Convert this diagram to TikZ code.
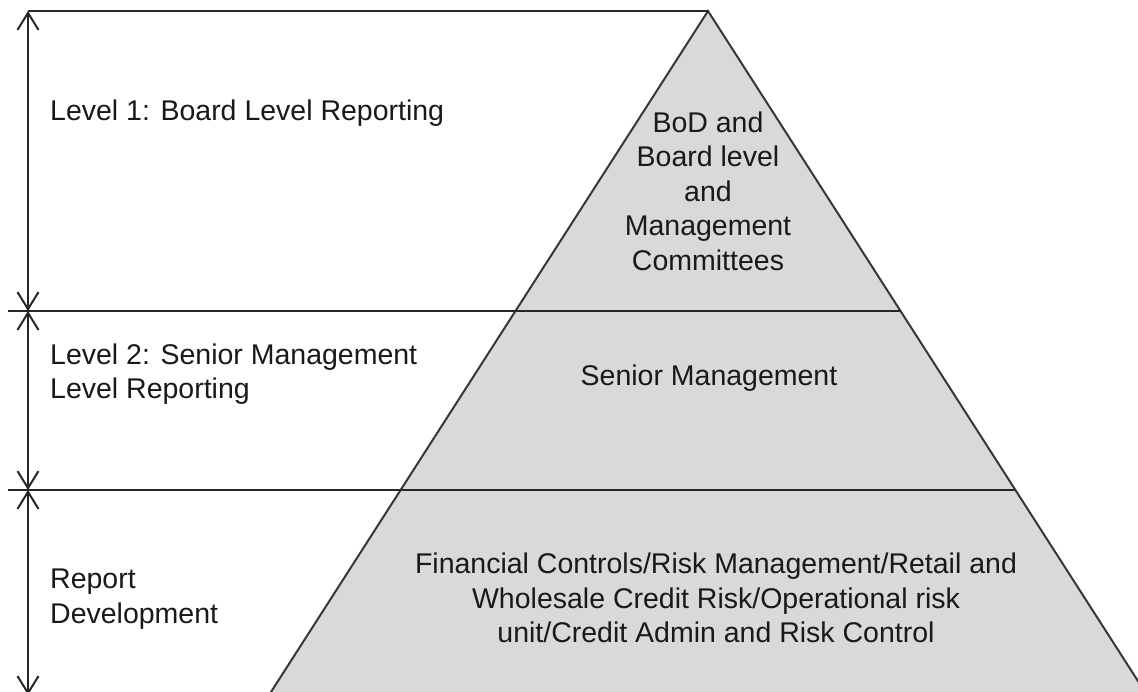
\documentclass[tikz,border=0pt]{standalone}
\usepackage{fontspec}
\setmainfont{Liberation Sans}
\usetikzlibrary{arrows.meta}
\definecolor{pyrfill}{RGB}{217,217,217}
\definecolor{pyrline}{RGB}{55,55,55}
\begin{document}
\begin{tikzpicture}[x=1pt, y=-1pt,
  txt/.style={font=\fontsize{28.5}{34.5}\selectfont, text=black!90, inner sep=0pt},
  lvl/.style={txt, anchor=west, align=left},
  inpyr/.style={txt, align=center},
  dim/.style={{Straight Barb[length=17pt,width=21pt]}-{Straight Barb[length=17pt,width=21pt]}, line width=2pt, color=black!85},
  rule/.style={line width=2pt, color=black!85}]
  \useasboundingbox (0,0) rectangle (1138,691);
  \clip (0,0) rectangle (1138,691);
  % the pyramid
  \draw[fill=pyrfill, draw=pyrline, line width=2pt] (708,11) -- (253,720) -- (1163,720) -- cycle;
  \coordinate (apex) at (708,11);
  \coordinate (top) at (28,11);
  \coordinate (m1) at (28,311);
  \coordinate (m2) at (28,490);
  \coordinate (bot) at (28,695);
  \coordinate (l1w) at (8,311);
  \coordinate (l1e) at (900,311);
  \coordinate (l2w) at (8,490);
  \coordinate (l2e) at (1015,490);
  \draw[rule] (top) -- (apex);
  \draw[rule] (l1w) -- (l1e);
  \draw[rule] (l2w) -- (l2e);
  \draw[dim] (top) -- (m1);
  \draw[dim] (m1) -- (m2);
  \draw[dim] (m2) -- (bot);
  % level labels
  \node (lv1) at (50,113) [lvl] {Level 1: Board Level Reporting};
  \node (lv2) at (50,374) [lvl] {Level 2: Senior Management\\Level Reporting};
  \node (lv3) at (50,599) [lvl] {Report\\Development};
  % pyramid texts
  \node (bod) at (708,191) [inpyr] {BoD and\\Board level\\and\\Management\\Committees};
  \node (sm) at (709,378) [inpyr] {Senior Management};
  \node (fc) at (716,598) [inpyr] {Financial Controls/Risk Management/Retail and\\Wholesale Credit Risk/Operational risk\\unit/Credit Admin and Risk Control};
\end{tikzpicture}
\end{document}
